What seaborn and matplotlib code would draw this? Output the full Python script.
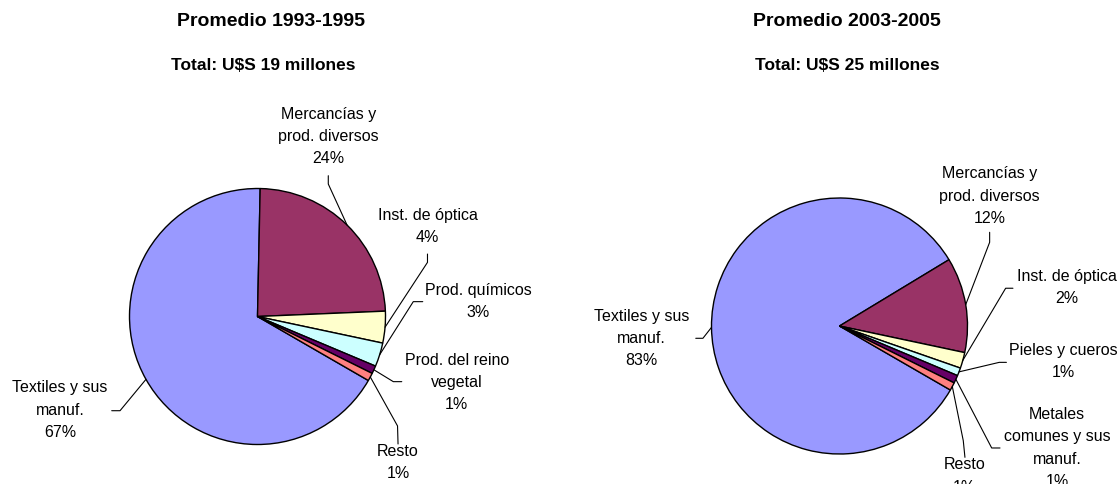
import numpy as np
import matplotlib
matplotlib.use("Agg")
import matplotlib.pyplot as plt
import seaborn as sns

# values (percent of total exports)
left_names = ["Textiles y sus\nmanuf.", "Mercancías y\nprod. diversos", "Inst. de óptica",
              "Prod. químicos", "Prod. del reino\nvegetal", "Resto"]
left_values = [67, 24, 4, 3, 1, 1]

right_names = ["Textiles y sus\nmanuf.", "Mercancías y\nprod. diversos", "Inst. de óptica",
               "Pieles y cueros", "Metales\ncomunes y sus\nmanuf.", "Resto"]
right_values = [83, 12, 2, 1, 1, 1]

titles = ["Promedio 1993-1995", "Promedio 2003-2005"]
subtitles = ["Total: U$S 19 millones", "Total: U$S 25 millones"]

# excel default pie palette
slice_colors = ["#9999FF", "#993366", "#FFFFCC", "#CCFFFF", "#660066", "#FF8080"]

# label layout, in pie radius units: text centre, stub start near text, elbow
left_layout = [
    ((-1.543, -0.723), (-1.139, -0.736), (-1.074, -0.736)),
    ((0.553, 1.413), (0.553, 1.100), (0.553, 1.035)),
    ((1.328, 0.712), (1.328, 0.488), (1.328, 0.423)),
    ((1.723, 0.125), (1.291, 0.116), (1.217, 0.116)),
    ((1.556, -0.508), (1.127, -0.509), (1.061, -0.509)),
    ((1.098, -1.135), (1.098, -0.996), (1.094, -0.855)),
]
right_layout = [
    ((-1.548, -0.088), (-1.123, -0.096), (-1.067, -0.096)),
    ((1.173, 1.023), (1.173, 0.732), (1.173, 0.654)),
    ((1.773, 0.306), (1.355, 0.295), (1.298, 0.295)),
    ((1.751, -0.268), (1.304, -0.284), (1.248, -0.284)),
    ((1.699, -0.945), (1.254, -0.953), (1.189, -0.953)),
    ((0.978, -1.164), (0.980, -1.026), (0.967, -0.896)),
]

sns.set_theme(style="white")
plt.rcParams["font.family"] = ["Liberation Sans", "DejaVu Sans"]
plt.rcParams["text.color"] = "black"

W, H = 1117, 485
fig = plt.figure(figsize=(W / 100, H / 100), dpi=100)
fig.patch.set_facecolor("white")


def pie_axes(cx, cy, r):
    #Axes box in pixel terms (y measured from the top).
    return fig.add_axes([(cx - r) / W, (H - cy - r) / H, 2 * r / W, 2 * r / H])


def draw_pie(ax, names, values, layout):
    wedges, _ = ax.pie(
        values,
        colors=slice_colors,
        startangle=330,
        counterclock=False,
        radius=1,
        wedgeprops=dict(edgecolor="black", linewidth=1.0),
    )
    ax.set_xlim(-1, 1)
    ax.set_ylim(-1, 1)
    ax.set_aspect("equal")
    ax.axis("off")

    for wedge, name, value, (text_pos, stub, elbow) in zip(wedges, names, values, layout):
        mid = np.deg2rad((wedge.theta1 + wedge.theta2) / 2)
        edge = (np.cos(mid), np.sin(mid))
        ax.plot([edge[0], elbow[0], stub[0]], [edge[1], elbow[1], stub[1]],
                color="black", lw=0.8, clip_on=False)
        ax.text(text_pos[0], text_pos[1], f"{name}\n{value:.0f}%",
                ha="center", va="center", multialignment="center",
                linespacing=1.6, fontsize=11.5, color="black", clip_on=False)


ax_left = pie_axes(257.5, 317.5, 128)
draw_pie(ax_left, left_names, left_values, left_layout)

ax_right = pie_axes(839.5, 327, 128)
draw_pie(ax_right, right_names, right_values, right_layout)

for title, sub, tx, sx in zip(titles, subtitles, [271, 847], [263.5, 847.5]):
    fig.text(tx / W, 1 - 21 / H, title, ha="center", va="center",
             fontsize=14, fontweight="bold", color="black")
    fig.text(sx / W, 1 - 66 / H, sub, ha="center", va="center",
             fontsize=12.5, fontweight="bold", color="black")

fig.savefig("out.png", dpi=100)
plt.close(fig)
